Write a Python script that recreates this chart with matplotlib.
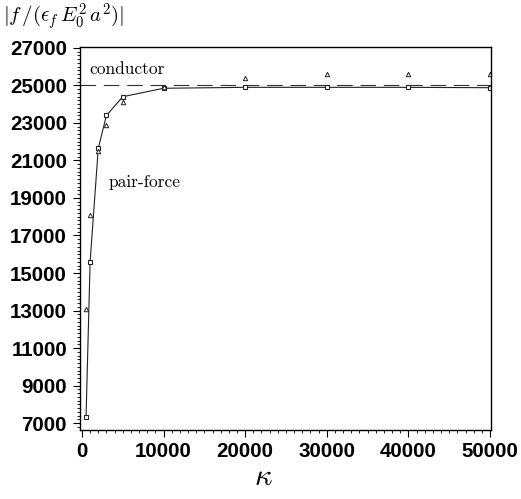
import matplotlib
matplotlib.use("Agg")
import matplotlib.pyplot as plt
from matplotlib.ticker import MultipleLocator

plt.rcParams['mathtext.fontset'] = 'cm'

kappa = [500, 1000, 2000, 3000, 5000, 10000, 20000, 30000, 40000, 50000]
pair_force = [7300, 15600, 21650, 23400, 24400, 24850, 24900, 24900, 24900, 24880]
tri_kappa = [500, 1000, 2000, 3000, 5000, 10000, 20000, 30000, 40000, 50000]
tri_vals = [13100, 18100, 21500, 22900, 24100, 24900, 25400, 25600, 25600, 25600]
conductor = 25000
x_ticks = [0, 10000, 20000, 30000, 40000, 50000]
y_ticks = [7000, 9000, 11000, 13000, 15000, 17000, 19000, 21000, 23000, 25000, 27000]

fig = plt.figure(figsize=(5.21, 4.99), dpi=100)
ax = fig.add_axes([0.1526, 0.1383, 0.7898, 0.7675])

ax.axhline(conductor, color='#333333', lw=0.8, ls=(0, (14, 7)))
ax.plot(kappa, pair_force, color='#222222', lw=0.8, marker='s', ms=3.5,
        mfc='white', mec='#222222', mew=0.8)
ax.plot(tri_kappa, tri_vals, ls='none', marker='^', ms=3.2,
        mfc='white', mec='#222222', mew=0.7)

ax.set_xlim(-300, 50120)
ax.set_ylim(6630, 27050)
ax.set_xticks(x_ticks)
ax.set_yticks(y_ticks)
ax.xaxis.set_minor_locator(MultipleLocator(1000))
ax.yaxis.set_minor_locator(MultipleLocator(200))

tick_font = dict(family='Liberation Sans', weight='bold', size=14.8)
ax.set_xticklabels([str(v) for v in x_ticks], **tick_font)
ax.set_yticklabels([str(v) for v in y_ticks], **tick_font)
ax.tick_params(which='major', direction='out', length=5, width=0.8, pad=4)
ax.tick_params(which='minor', direction='out', length=2.5, width=0.6)
for s in ax.spines.values():
    s.set_linewidth(1.0)

ax.text(850, 25600, 'conductor', family='cmr10', fontsize=12.5)
ax.text(3300, 19600, 'pair-force', family='cmr10', fontsize=12.5)

fig.text(0.006, 0.967, r'$|f\,/(\epsilon_f\,E_0^2\,a^2)|$', fontsize=15, va='center')
fig.text(0.505, 0.045, r'$\kappa$', fontsize=22, ha='center', va='center')

fig.savefig('out.png', dpi=100)
